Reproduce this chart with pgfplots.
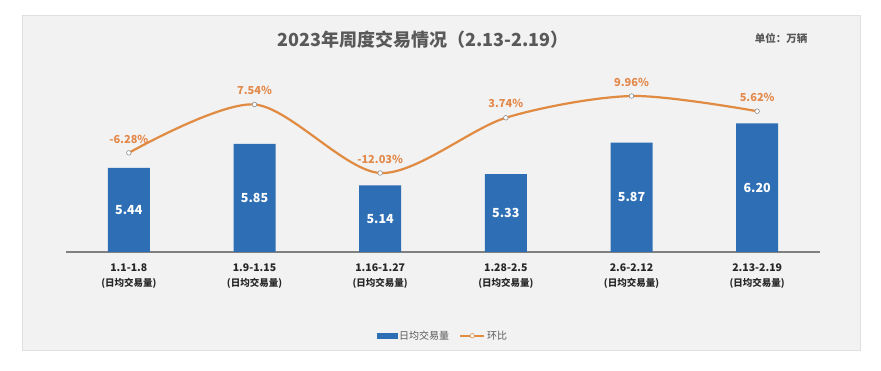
\documentclass[border=0pt]{standalone}
\usepackage{pgfplots}
\pgfplotsset{compat=1.18}
\usepackage{fontspec}
\setmainfont{Noto Sans CJK SC}
\definecolor{barblue}{HTML}{2E6EB4}
\definecolor{lineor}{HTML}{E08A42}
\definecolor{labor}{HTML}{E3894A}
\definecolor{panel}{HTML}{F2F2F2}
\definecolor{txtgrey}{HTML}{595959}
\begin{document}
\begin{tikzpicture}[x=1pt,y=1pt]
\path[use as bounding box] (0,0) rectangle (881,371);
\fill[white] (0,0) rectangle (881,371);
\filldraw[fill=panel,draw=black!12,line width=0.8pt] (22,21) rectangle (860,356);
\node[font=\fontsize{18}{21}\selectfont\bfseries,text=txtgrey] at (423,331) {2023年周度交易情况（2.13-2.19）};
\node[font=\fontsize{10.5}{12}\selectfont\bfseries,text=txtgrey] at (781,333) {单位：万辆};
\begin{axis}[
  at={(66pt,119pt)}, anchor=south west,
  width=754pt, height=212pt, scale only axis,
  xmin=-0.5, xmax=5.5, ymin=4, ymax=7.624,
  axis x line=bottom, axis y line=none,
  x axis line style={-, draw=black!50, line width=1.2pt},
  xtick={0,1,2,3,4,5}, major tick length=0pt,
  xticklabels={
    {1.1-1.8\\[3pt]\fontsize{9.5}{11}\selectfont(日均交易量)},
    {1.9-1.15\\[3pt]\fontsize{9.5}{11}\selectfont(日均交易量)},
    {1.16-1.27\\[3pt]\fontsize{9.5}{11}\selectfont(日均交易量)},
    {1.28-2.5\\[3pt]\fontsize{9.5}{11}\selectfont(日均交易量)},
    {2.6-2.12\\[3pt]\fontsize{9.5}{11}\selectfont(日均交易量)},
    {2.13-2.19\\[3pt]\fontsize{9.5}{11}\selectfont(日均交易量)}},
  xticklabel style={align=center, text=black!85, yshift=-8pt,
    font=\fontsize{10.5}{12}\selectfont\bfseries},
  ytick=\empty,
]
\addplot[ybar, bar width=42pt, fill=barblue, draw=none,
  visualization depends on={y \as \rawy},
  nodes near coords,
  every node near coord/.append style={/pgf/number format/fixed, /pgf/number format/fixed zerofill, /pgf/number format/precision=2,
    /pgf/number format/assume math mode=true,
    anchor=center, text=white,
    font=\fontsize{12.5}{14}\selectfont\bfseries,
    shift={(axis direction cs:0,{-(\rawy-4)/2})}}]
  coordinates {(0,5.44) (1,5.85) (2,5.14) (3,5.33) (4,5.87) (5,6.20)};
\end{axis}
\begin{axis}[
  at={(66pt,119pt)}, anchor=south west,
  width=754pt, height=212pt, scale only axis,
  xmin=-0.5, xmax=5.5, ymin=-34.6, ymax=25.96,
  hide axis,
  legend style={at={(0.5,-0.395)}, anchor=center, draw=none, fill=none,
    legend columns=2, font=\fontsize{10}{12}\selectfont, text=txtgrey,
    /tikz/every even column/.append style={column sep=8pt}},
]
\addlegendimage{legend image code/.code={\fill[barblue] (0pt,-2.5pt) rectangle (20pt,2.5pt);}}
\addlegendentry{日均交易量}
\addplot[color=lineor, line width=2.2pt, smooth, tension=0.5,
  mark=*, mark size=2.3pt, mark options={fill=white, draw=black!45, line width=0.6pt},
  point meta=explicit symbolic,
  nodes near coords,
  every node near coord/.append style={anchor=south, yshift=6pt, text=labor,
    font=\fontsize{11}{13}\selectfont\bfseries},
  legend image code/.code={\draw[lineor,line width=2pt] (0pt,0pt)--(24pt,0pt);
    \filldraw[fill=white,draw=lineor,line width=0.6pt] (12pt,0pt) circle (2.2pt);}]
  coordinates {(0,-6.28)[-6.28\%] (1,7.54)[7.54\%] (2,-12.03)[-12.03\%] (3,3.74)[3.74\%] (4,9.96)[9.96\%] (5,5.62)[5.62\%]};
\addlegendentry{环比}
\end{axis}
\end{tikzpicture}
\end{document}
